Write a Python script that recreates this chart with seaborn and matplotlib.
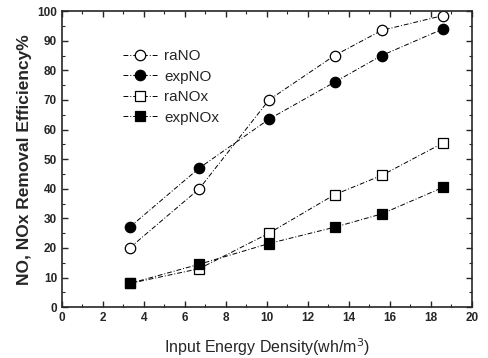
import seaborn as sns
import matplotlib.pyplot as plt
import pandas as pd
from matplotlib.ticker import MultipleLocator

# Values
energy = [3.3, 6.7, 10.1, 13.3, 15.6, 18.6]
ra_no = [20, 40, 70, 85, 93.5, 98.5]
exp_no = [27, 47, 63.5, 76, 85, 94]
ra_nox = [8, 13, 25, 38, 44.5, 55.5]
exp_nox = [8, 14.5, 21.5, 27, 31.5, 40.5]

series = {'raNO': ra_no, 'expNO': exp_no, 'raNOx': ra_nox, 'expNOx': exp_nox}
data = pd.concat([pd.DataFrame({'Energy': energy, 'Efficiency': v, 'Series': k})
                  for k, v in series.items()], ignore_index=True)

sns.set_style('ticks')
plt.rcParams['font.family'] = ['Liberation Sans', 'DejaVu Sans']

fig = plt.figure(figsize=(4.88, 3.58), dpi=100)
ax = fig.add_axes([0.127, 0.142, 0.840, 0.827])

styles = {
    'raNO': dict(marker='o', markerfacecolor='white'),
    'expNO': dict(marker='o', markerfacecolor='black'),
    'raNOx': dict(marker='s', markerfacecolor='white'),
    'expNOx': dict(marker='s', markerfacecolor='black'),
}
for name, st in styles.items():
    sub = data[data['Series'] == name]
    sns.lineplot(data=sub, x='Energy', y='Efficiency', ax=ax, color='black',
                 linewidth=0.7, linestyle=(0, (5, 2, 1, 2)), markersize=7.5,
                 markeredgecolor='black', markeredgewidth=0.9, label=name, **st)

ax.set_xlim(0, 20)
ax.set_ylim(0, 100)
ax.xaxis.set_major_locator(MultipleLocator(2))
ax.xaxis.set_minor_locator(MultipleLocator(1))
ax.yaxis.set_major_locator(MultipleLocator(10))
ax.yaxis.set_minor_locator(MultipleLocator(5))
ax.tick_params(which='both', direction='in', top=True, right=True, labelsize=8.5)
ax.tick_params(which='major', length=4, width=1)
ax.tick_params(which='minor', length=2, width=0.8)
for lab in ax.get_xticklabels() + ax.get_yticklabels():
    lab.set_fontweight('bold')
for sp in ax.spines.values():
    sp.set_linewidth(1.2)
    sp.set_visible(True)

ax.set_xlabel('Input Energy Density(wh/m$^3$)', fontsize=11.5, labelpad=9)
ax.set_ylabel('NO, NOx Removal Efficiency%', fontsize=12.5, fontweight='bold',
              labelpad=4)

ax.legend(loc='upper left', bbox_to_anchor=(0.115, 0.917), frameon=False,
          fontsize=11, handlelength=2.3, labelspacing=0.42, handletextpad=0.4)

fig.savefig('out.png', dpi=100)
